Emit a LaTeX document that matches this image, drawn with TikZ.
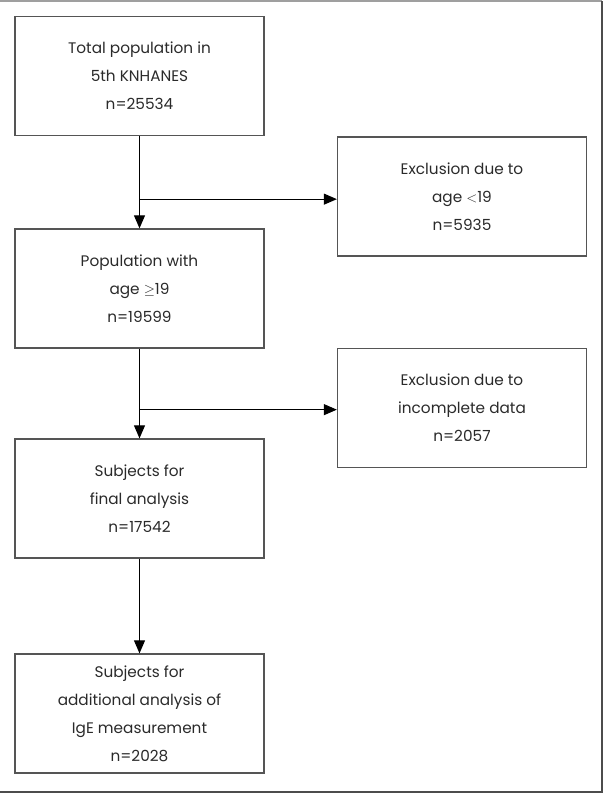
\documentclass[tikz,border=0pt]{standalone}
\usepackage{fontspec}
\setmainfont{Poppins}
\usetikzlibrary{arrows.meta,calc}
\definecolor{boxline}{HTML}{555555}
\definecolor{txt}{HTML}{2A2A2A}
\tikzset{
  flowbox/.style={draw=boxline, line width=1.3pt, minimum width=249pt, minimum height=119pt,
    inner sep=0pt, align=center, font=\fontsize{15.3pt}{28pt}\selectfont, text=txt},
  conn/.style={line width=1pt, -{Triangle[length=13pt,width=11pt]}},
  plainline/.style={line width=1pt}
}
\begin{document}
\begin{tikzpicture}[x=1pt,y=-1pt]
\useasboundingbox (0,0) rectangle (604,793);
% frame
\draw[gray!75, line width=2pt] (0,1) -- (602,1);
\draw[gray!60!black, line width=2pt] (602,1) -- (602,792) -- (0,792);
% boxes
\node[flowbox] (b1) at (139.5,76) {Total population in\\5th KNHANES\\n=25534};
\node[flowbox] (b2) at (462,196.5) {Exclusion due to\\age ${<}$19\\n=5935};
\node[flowbox] (b3) at (139.5,288.5) {Population with\\age $\geq$19\\n=19599};
\node[flowbox] (b4) at (462,408) {Exclusion due to\\incomplete data\\n=2057};
\node[flowbox] (b5) at (139.5,498.5) {Subjects for\\final analysis\\n=17542};
\node[flowbox] (b6) at (139.5,713.5) {Subjects for\\additional analysis of\\IgE measurement\\n=2028};
% connectors
\coordinate (j1) at ($(b1.south)+(0,63)$);
\coordinate (j2) at ($(b3.south)+(0,61)$);
\draw[conn] (b1.south) -- (b3.north);
\draw[conn] (j1) -- (j1 -| b2.west);
\draw[conn] (b3.south) -- (b5.north);
\draw[conn] (j2) -- (j2 -| b4.west);
\draw[conn] (b5.south) -- (b6.north);
\end{tikzpicture}
\end{document}
